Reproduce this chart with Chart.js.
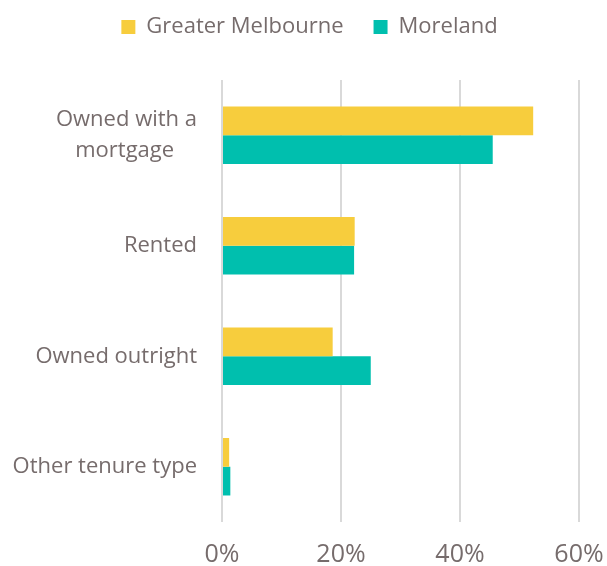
<!DOCTYPE html>
<html>
<head>
<meta charset="utf-8">
<script src="https://cdn.jsdelivr.net/npm/chart.js@4"></script>
<style>
  html, body { margin: 0; padding: 0; background: #fff; }
  #wrap { width: 607px; height: 566px; }
</style>
</head>
<body>
<div id="wrap"><canvas id="myChart" width="607" height="566"></canvas></div>
<script>
// second line padded with no-break spaces so it sits centred under the first
var categories = [["Owned with a", "mortgage\u00a0\u00a0\u00a0\u00a0"], "Rented", "Owned outright", "Other tenure type"];
var melbourne = [52.3, 22.3, 18.6, 1.2];
var moreland = [45.5, 22.2, 25.0, 1.4];
var xTicks = [0, 20, 40, 60];

var textColor = '#766c6c';
var fontName = 'Open Sans';

// legend: fixed height so the plot starts lower, then nudge it up/right
var legendSpot = {
    id: 'legendSpot',
    beforeInit: function(chart) {
        var fit = chart.legend.fit;
        chart.legend.fit = function() {
            fit.bind(chart.legend)();
            this.height = 80;
        };
    },
    afterLayout: function(chart) {
        chart.legend.top = -14;
        chart.legend.left += 16;
        chart.legend.right += 16;
    }
};

var ctx = document.getElementById('myChart').getContext('2d');
var chart = new Chart(ctx, {
    type: 'bar',
    data: {
        labels: categories,
        datasets: [{
            label: 'Greater Melbourne',
            backgroundColor: '#f7cd3d',
            data: melbourne
        }, {
            label: 'Moreland',
            backgroundColor: '#00bfae',
            data: moreland
        }]
    },
    plugins: [legendSpot],
    options: {
        indexAxis: 'y',
        responsive: false,
        animation: false,
        barPercentage: 1,
        categoryPercentage: 0.52,
        layout: { padding: { left: 8, right: 28, top: 0, bottom: 0 } },
        plugins: {
            legend: {
                position: 'top',
                labels: {
                    color: textColor,
                    font: { family: fontName, size: 22 },
                    boxWidth: 14,
                    boxHeight: 14,
                    padding: 30
                }
            },
            tooltip: { enabled: false }
        },
        scales: {
            x: {
                min: 0,
                max: 60,
                afterBuildTicks: function(axis) {
                    axis.ticks = xTicks.map(function(v) { return { value: v }; });
                },
                afterFit: function(axis) {
                    axis.height = 44;
                    axis.paddingLeft = 0;
                    axis.paddingRight = 0;
                },
                border: { display: false },
                grid: { color: '#d9d9d9', lineWidth: 2, drawTicks: false },
                ticks: {
                    color: textColor,
                    font: { family: fontName, size: 25 },
                    padding: 18,
                    callback: function(v) { return v + '%'; }
                }
            },
            y: {
                afterFit: function(axis) {
                    axis.width = 214;
                    axis.paddingTop = 0;
                    axis.paddingBottom = 0;
                },
                border: { display: false },
                grid: { display: false, drawTicks: false },
                ticks: {
                    color: textColor,
                    font: { family: fontName, size: 22, lineHeight: 1.45 },
                    padding: 25
                }
            }
        }
    }
});
</script>
</body>
</html>
